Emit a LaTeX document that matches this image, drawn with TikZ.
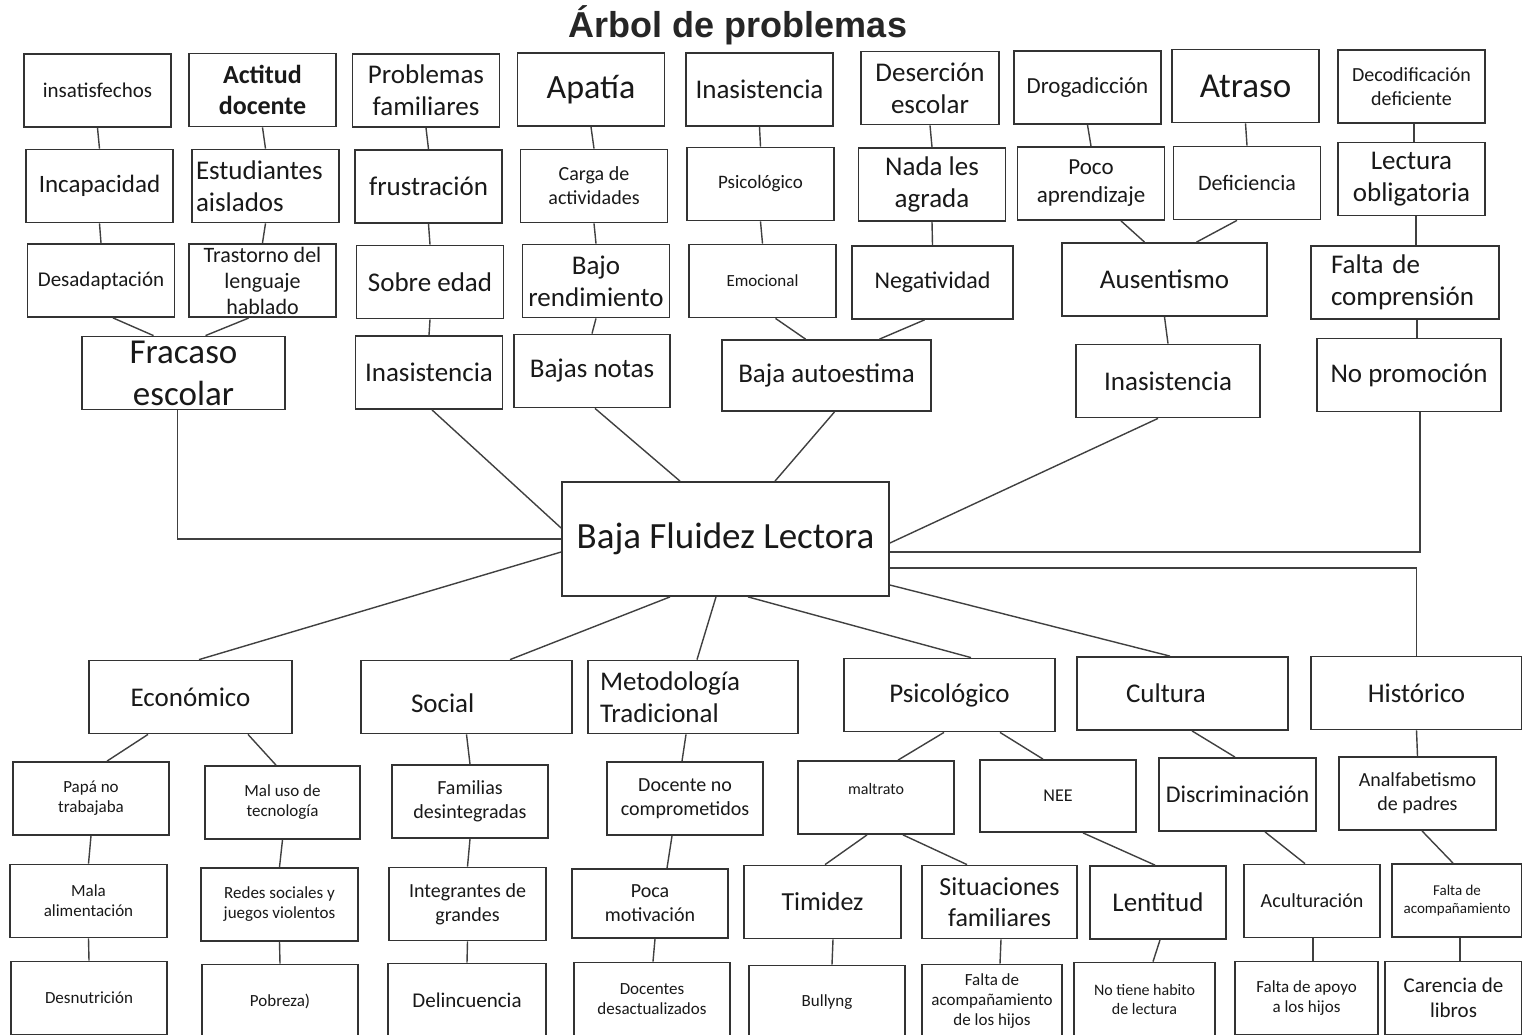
\documentclass[tikz,border=0pt]{standalone}
\usepackage{fontspec}
\setmainfont{Carlito}
\newfontfamily\titlefont{Liberation Sans}

\tikzset{
  caja/.style={draw=black!80, line width=1.8pt, align=center, inner sep=3pt,
    minimum width=147pt, minimum height=73pt, text=black!90},
  conector/.style={draw=black!75, line width=1.4pt},
  fs/.style={font=\fontsize{#1}{\numexpr#1*6/5\relax}\selectfont}
}

\begin{document}
\begin{tikzpicture}[x=1pt,y=-1pt]
  \clip (0,0) rectangle (1522,1034);
  \fill[white] (0,0) rectangle (1522,1034);

  \node[font=\titlefont\bfseries\fontsize{36}{42}\selectfont, text=black!85] (titulo) at (738,25) {Árbol de problemas};

  % efectos, fila 1
  \node[caja,fs=21] (insat) at (97.5,90.5) {insatisfechos};
  \node[caja,fs=26] (actitud) at (262.5,90) {\textbf{Actitud}\\\textbf{docente}};
  \node[caja,fs=27] (probfam) at (426,90.5) {Problemas\\familiares};
  \node[caja,fs=34] (apatia) at (591,89.5) {Apatía};
  \node[caja,fs=27] (inasis1) at (759.5,89.5) {Inasistencia};
  \node[caja,fs=27,minimum width=138] (desercion) at (930,88) {Deserción\\escolar};
  \node[caja,fs=23] (droga) at (1087.5,87.5) {Drogadicción};
  \node[caja,fs=35] (atraso) at (1245.5,86) {Atraso};
  \node[caja,fs=20] (decod) at (1411.5,86.5) {Decodificación\\deficiente};

  % fila 2
  \node[caja,fs=25] (incap) at (99.5,186) {Incapacidad};
  \node[caja,fs=27,align=left,text width=139,inner xsep=4] (aislados) at (265.5,186) {Estudiantes\\aislados};
  \node[caja,fs=27] (frustra) at (428.5,186.5) {frustración};
  \node[caja,fs=20] (carga) at (594,186) {Carga de\\actividades};
  \node[caja,fs=19] (psico1) at (760.5,184) {Psicológico};
  \node[caja,fs=27] (nada) at (932,184.5) {Nada les\\agrada};
  \node[caja,fs=23] (poco) at (1091,183.5) {Poco\\aprendizaje};
  \node[caja,fs=22] (deficiencia) at (1247,183) {Deficiencia};
  \node[caja,fs=27] (lectura) at (1411.5,179) {Lectura\\obligatoria};

  % fila 3
  \node[caja,fs=21] (desadap) at (101,280.5) {Desadaptación};
  \node[caja,fs=22] (trastorno) at (262.5,280.5) {Trastorno del\\lenguaje\\hablado};
  \node[caja,fs=27] (sobreedad) at (430,282) {Sobre edad};
  \node[caja,fs=27] (bajorend) at (596,281) {Bajo\\rendimiento};
  \node[caja,fs=17] (emocional) at (762.5,281) {Emocional};
  \node[caja,fs=24,minimum width=161] (negativ) at (932.5,282.5) {Negatividad};
  \node[caja,fs=27,minimum width=205] (ausent) at (1164.5,279.5) {Ausentismo};
  \node[caja,fs=27,align=left,text width=148,inner xsep=20] (comprension) at (1405,282.5) {Falta de\\comprensión};

  % fila 4
  \node[caja,fs=35,minimum width=203] (fracaso) at (183.5,373) {Fracaso\\escolar};
  \node[caja,fs=27] (inasis2) at (429,372.5) {Inasistencia};
  \node[caja,fs=27,minimum width=156] (bajasnotas) at (592,371) {Bajas notas};
  \node[caja,fs=27,minimum width=209,minimum height=71] (autoestima) at (826.5,375.5) {Baja autoestima};
  \node[caja,fs=27,minimum width=184] (inasis3) at (1168,381) {Inasistencia};
  \node[caja,fs=27,minimum width=184] (promocion) at (1409,375) {No promoción};

  % problema central
  \node[caja,fs=37,minimum width=327,minimum height=114] (centro) at (725.5,539) {Baja Fluidez Lectora};

  % causas
  \node[caja,fs=27,minimum width=203] (econ) at (190.5,697) {Económico};
  \node[caja,fs=27,align=left,text width=111,inner xsep=50,text height=31pt] (social) at (466.5,697) {Social};
  \node[caja,fs=27,align=left,text width=186,inner xsep=12] (metodo) at (693,697) {Metodología\\Tradicional};
  \node[caja,fs=27,minimum width=211] (psico2) at (949.5,695) {Psicológico};
  \node[caja,fs=27,align=left,text width=113,inner xsep=49] (cultura) at (1182.5,693.5) {Cultura};
  \node[caja,fs=27,minimum width=211] (historico) at (1416.5,693) {Histórico};

  \node[caja,fs=17,minimum width=156] (papa) at (91,798.5) {Papá no\\trabajaba};
  \node[caja,fs=17,minimum width=155] (maluso) at (282.5,802.5) {Mal uso de\\tecnología};
  \node[caja,fs=20,minimum width=156] (familias) at (470,801.5) {Familias\\desintegradas};
  \node[caja,fs=20,minimum width=156] (docno) at (685,798.5) {Docente no\\comprometidos};
  \node[caja,fs=16,minimum width=156,text depth=17pt] (maltrato) at (876,797.5) {maltrato};
  \node[caja,fs=18,minimum width=156,minimum height=72] (nee) at (1058,796) {NEE};
  \node[caja,fs=24,minimum width=157] (discrim) at (1237.5,794.5) {Discriminación};
  \node[caja,fs=20,minimum width=157] (analfa) at (1417.5,793.5) {Analfabetismo\\de padres};

  \node[caja,fs=17,minimum width=157] (malaalim) at (88.5,901) {Mala\\alimentación};
  \node[caja,fs=17,minimum width=157] (redes) at (279.5,904.5) {Redes sociales y\\juegos violentos};
  \node[caja,fs=20,minimum width=157] (integrantes) at (467.5,904) {Integrantes de\\grandes};
  \node[caja,fs=20,minimum width=156,minimum height=69] (pocamot) at (650,903.5) {Poca\\motivación};
  \node[caja,fs=26,minimum width=157] (timidez) at (822.5,902) {Timidez};
  \node[caja,fs=26,minimum width=155] (situaciones) at (999.5,902) {Situaciones\\familiares};
  \node[caja,fs=27,minimum width=136] (lentitud) at (1158,902.5) {Lentitud};
  \node[caja,fs=20,minimum width=136] (acultura) at (1312,901) {Aculturación};
  \node[caja,fs=15,minimum width=130] (faltacomp) at (1457,900.5) {Falta de\\acompañamiento};

  \node[caja,fs=17,minimum width=156] (desnutri) at (89,998) {Desnutrición};
  \node[caja,fs=17,minimum width=156] (pobreza) at (280,1001) {Pobreza)};
  \node[caja,fs=21,minimum width=158] (delinc) at (467,1000) {Delincuencia};
  \node[caja,fs=17,minimum width=156] (docdes) at (652,999) {Docentes\\desactualizados};
  \node[caja,fs=17,minimum width=156] (bully) at (827,1002) {Bullyng};
  \node[caja,fs=17,minimum width=140] (faltahijos) at (992,1001) {Falta de\\acompañamiento\\de los hijos};
  \node[caja,fs=16,minimum width=141] (notiene) at (1144.5,999) {No tiene habito\\de lectura};
  \node[caja,fs=17,minimum width=143] (apoyo) at (1306.5,998) {Falta de apoyo\\a los hijos};
  \node[caja,fs=21,minimum width=137] (carencia) at (1453.5,998) {Carencia de\\libros};

  % uniones verticales
  \foreach \a/\b in {insat/incap, incap/desadap, actitud/aislados, aislados/trastorno,
      probfam/frustra, frustra/sobreedad, sobreedad/inasis2, apatia/carga, carga/bajorend,
      bajorend/bajasnotas, inasis1/psico1, psico1/emocional, desercion/nada, nada/negativ,
      droga/poco, atraso/deficiencia, ausent/inasis3, papa/malaalim, malaalim/desnutri,
      maluso/redes, redes/pobreza, social/familias, familias/integrantes,
      integrantes/delinc, historico/analfa}
    \draw[conector] (\a.south) -- (\b.north);
  \draw[conector] ([xshift=2.5]decod.south) -- ([xshift=2.5]lectura.north);
  \draw[conector] ([xshift=4.5]lectura.south) -- ([xshift=11]comprension.north);
  \draw[conector] ([xshift=12]comprension.south) -- ([xshift=8]promocion.north);

  % uniones inclinadas arriba
  \draw[conector] ([xshift=12]desadap.south) -- ([xshift=-30]fracaso.north);
  \draw[conector] ([xshift=-14]trastorno.south) -- ([xshift=22]fracaso.north);
  \draw[conector] ([xshift=13]emocional.south) -- ([xshift=-21]autoestima.north);
  \draw[conector] ([xshift=-8]negativ.south) -- ([xshift=53]autoestima.north);
  \draw[conector] ([xshift=30]poco.south) -- ([xshift=-20]ausent.north);
  \draw[conector] ([xshift=-10]deficiencia.south) -- ([xshift=32]ausent.north);

  % hacia el problema central
  \draw[conector] ([xshift=-6]fracaso.south) |- (centro.west);
  \draw[conector] ([xshift=3]inasis2.south) -- ([yshift=11]centro.west);
  \draw[conector] ([xshift=3]bajasnotas.south) -- ([xshift=-45.5]centro.north);
  \draw[conector] ([xshift=8]autoestima.south) -- ([xshift=49.5]centro.north);
  \draw[conector] ([xshift=-10]inasis3.south) -- ([yshift=-4]centro.east);
  \draw[conector] ([xshift=11]promocion.south) |- ([yshift=-13]centro.east);
  \draw[conector] ([yshift=-29]centro.east) -| (historico.north);
  \draw[conector] ([yshift=-13]centro.west) -- ([xshift=8.5]econ.north);
  \draw[conector] ([xshift=-55.5]centro.south) -- ([xshift=43.5]social.north);
  \draw[conector] ([xshift=-9.5]centro.south) -- ([xshift=4]metodo.north);
  \draw[conector] ([xshift=22.5]centro.south) -- ([xshift=21.5]psico2.north);
  \draw[conector] ([yshift=-46]centro.east) -- ([xshift=-12.5]cultura.north);

  % uniones inclinadas abajo
  \draw[conector] ([xshift=-42.5]econ.south) -- ([xshift=16]papa.north);
  \draw[conector] ([xshift=57.5]econ.south) -- ([xshift=-6.5]maluso.north);
  \draw[conector] ([xshift=-7]metodo.south) -- ([xshift=-3]docno.north);
  \draw[conector] ([xshift=-13]docno.south) -- ([xshift=17]pocamot.north);
  \draw[conector] ([xshift=5]pocamot.south) -- ([xshift=1]docdes.north);
  \draw[conector] ([xshift=-5.5]psico2.south) -- ([xshift=22]maltrato.north);
  \draw[conector] ([xshift=50.5]psico2.south) -- ([xshift=-15]nee.north);
  \draw[conector] ([xshift=-9]maltrato.south) -- ([xshift=2.5]timidez.north);
  \draw[conector] ([xshift=27]maltrato.south) -- ([xshift=-32.5]situaciones.north);
  \draw[conector] ([xshift=10.5]timidez.south) -- ([xshift=5]bully.north);
  \draw[conector] ([xshift=1.5]situaciones.south) -- ([xshift=8]faltahijos.north);
  \draw[conector] ([xshift=25]nee.south) -- ([xshift=-3]lentitud.north);
  \draw[conector] ([xshift=2]lentitud.south) -- ([xshift=8.5]notiene.north);
  \draw[conector] ([xshift=9.5]cultura.south) -- ([xshift=-2.5]discrim.north);
  \draw[conector] ([xshift=27.5]discrim.south) -- ([xshift=-7]acultura.north);
  \draw[conector] ([xshift=1]acultura.south) -- ([xshift=6.5]apoyo.north);
  \draw[conector] ([xshift=4.5]analfa.south) -- ([xshift=-4]faltacomp.north);
  \draw[conector] ([xshift=3]faltacomp.south) -- ([xshift=6.5]carencia.north);
\end{tikzpicture}
\end{document}
